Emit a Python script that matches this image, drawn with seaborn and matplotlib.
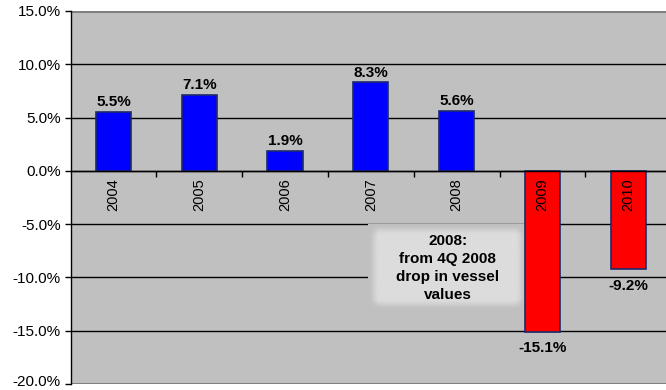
import numpy as np
import pandas as pd
import matplotlib
matplotlib.use("Agg")
import matplotlib.pyplot as plt
import matplotlib.transforms as mtransforms
import seaborn as sns

# Year-on-year change in vessel values (%)
years = ["2004", "2005", "2006", "2007", "2008", "2009", "2010"]
changes = [5.5, 7.1, 1.9, 8.3, 5.6, -15.1, -9.2]
value_labels = ["5.5%", "7.1%", "1.9%", "8.3%", "5.6%", "-15.1%", "-9.2%"]
y_ticks = [15, 10, 5, 0, -5, -10, -15, -20]
note_text = "2008:\nfrom 4Q 2008\ndrop in vessel\nvalues"

sns.set_theme(style="white")
plt.rcParams["font.family"] = ["Liberation Sans", "DejaVu Sans"]
plt.rcParams["text.color"] = "black"
plt.rcParams["ytick.color"] = "black"
plt.rcParams["xtick.color"] = "black"

df = pd.DataFrame({"year": years, "change": changes})
bar_colors = ["#0000FF" if v >= 0 else "#FF0000" for v in changes]

fig = plt.figure(figsize=(6.66, 3.90), dpi=100)
ax = fig.add_axes([0.106, 0.0154, 0.894, 0.9564])
ax.set_facecolor("#C0C0C0")

sns.barplot(data=df, x="year", y="change", hue="year", palette=bar_colors,
            saturation=1, legend=False, width=0.41, edgecolor="#1c2a6b",
            linewidth=1.2, ax=ax, zorder=3)

ax.set_xlim(-0.5, 6.44)
ax.set_ylim(-20, 15)
ax.set_xlabel("")
ax.set_ylabel("")

# horizontal gridlines
for t in y_ticks[1:-1]:
    ax.axhline(t, color="black", lw=1.0, zorder=1)
ax.axhline(15, color="#808080", lw=2.2, zorder=1)
ax.axhline(-20, color="#808080", lw=2.2, zorder=1)

# y axis
ax.set_yticks(y_ticks)
ax.set_yticklabels([f"{t:.1f}%" for t in y_ticks], fontsize=11, color="black")
ax.tick_params(axis="y", direction="out", length=4, width=1, color="black",
               left=True, pad=3)
# keep the lowest label inside the figure
lowest = ax.get_yticklabels()[-1]
lowest.set_transform(lowest.get_transform() +
                     mtransforms.ScaledTranslation(0, 2.5 / 72, fig.dpi_scale_trans))
for s in ["top", "right"]:
    ax.spines[s].set_visible(False)
ax.spines["left"].set_color("black")
ax.spines["left"].set_linewidth(1.0)

# category axis drawn along the zero line
ax.spines["bottom"].set_position(("data", 0))
ax.spines["bottom"].set_color("black")
ax.spines["bottom"].set_linewidth(1.0)
ax.spines["bottom"].set_zorder(4)
ax.set_xticks(np.arange(len(years) - 1) + 0.5)
ax.set_xticklabels([])
ax.tick_params(axis="x", direction="out", length=4, width=1, color="black",
               bottom=True)

# year labels just under the zero line
for i, yr in enumerate(years):
    ax.annotate(yr, xy=(i, 0), xytext=(0, -5), textcoords="offset points",
                rotation=90, ha="center", va="top", fontsize=10.5,
                color="black", zorder=5)

# value labels
for i, (v, lab) in enumerate(zip(changes, value_labels)):
    if v >= 0:
        ax.annotate(lab, xy=(i, v), xytext=(0, 2), textcoords="offset points",
                    ha="center", va="bottom", fontsize=11, fontweight="bold",
                    color="black", zorder=5)
    else:
        ax.annotate(lab, xy=(i, v), xytext=(0, -7), textcoords="offset points",
                    ha="center", va="top", fontsize=11, fontweight="bold",
                    color="black", zorder=5)

# soft-edged note box
x0, x1, y0, y1 = 2.97, 4.82, -13.1, -5.1
h, w = 90, 160
yy = np.linspace(0, 1, h)[:, None]
xx = np.linspace(0, 1, w)[None, :]
fx = np.clip(np.minimum(xx, 1 - xx) * w / 11.0, 0, 1)
fy = np.clip(np.minimum(yy, 1 - yy) * h / 11.0, 0, 1)
fade = fx * fy
fade = fade * fade * (3 - 2 * fade)
base = np.array([0xC0, 0xC0, 0xC0]) / 255.0
inner = np.array([0xDC, 0xDC, 0xDC]) / 255.0
img = base[None, None, :] + (inner - base)[None, None, :] * fade[:, :, None]
ax.imshow(img, extent=[x0, x1, y0, y1], aspect="auto", zorder=2.5,
          interpolation="bilinear")
ax.set_xlim(-0.5, 6.44)
ax.set_ylim(-20, 15)
ax.text((x0 + x1) / 2, -9.1, note_text, ha="center", va="center",
        fontsize=11, fontweight="bold", linespacing=1.36, color="black",
        zorder=6)

fig.savefig("out.png", dpi=100, facecolor="white")
